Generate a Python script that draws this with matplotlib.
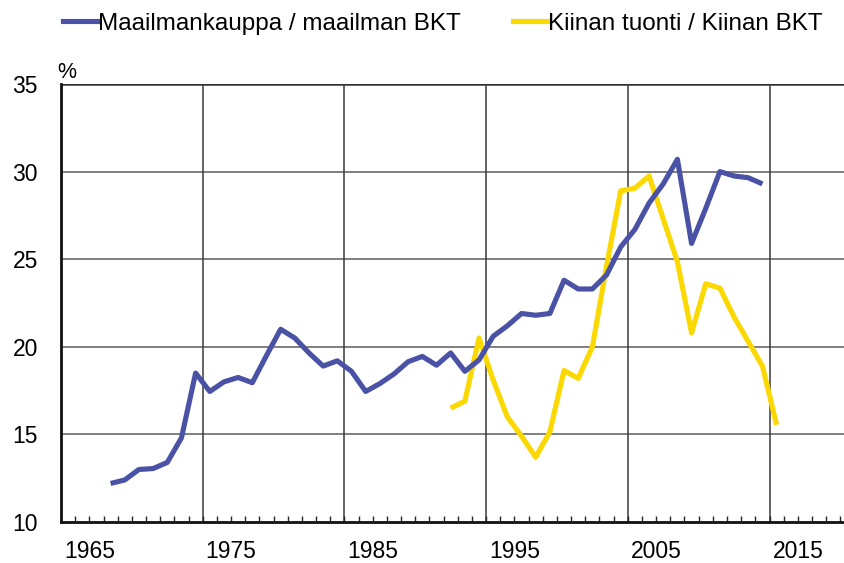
import matplotlib
matplotlib.use("Agg")
import matplotlib.pyplot as plt
from matplotlib.ticker import MultipleLocator, FixedLocator
from matplotlib.lines import Line2D
import numpy as np

plt.rcParams['font.family'] = ['Liberation Sans', 'DejaVu Sans']

# Data
world_years = list(range(1966, 2013))
world_trade = [12.2, 12.4, 13.0, 13.05, 13.4, 14.8, 18.5, 17.45, 18.0, 18.25, 17.95,
               19.5, 21.0, 20.5, 19.65, 18.9, 19.2, 18.6, 17.45, 17.9, 18.45, 19.15,
               19.45, 18.95, 19.65, 18.6, 19.25, 20.6, 21.2, 21.9, 21.8, 21.9, 23.8,
               23.3, 23.3, 24.1, 25.7, 26.7, 28.2, 29.3, 30.7, 25.9, 27.9, 30.0,
               29.75, 29.65, 29.3]
china_years = list(range(1990, 2014))
china_imports = [16.5, 16.9, 20.5, 18.1, 16.0, 14.9, 13.7, 15.15, 18.65, 18.2, 20.0,
                 24.6, 28.9, 29.05, 29.75, 27.3, 24.85, 20.8, 23.6, 23.35, 21.7,
                 20.3, 18.9, 15.55]
gridline_years = [1973, 1983, 1993, 2003, 2013]
xtick_labels = ['1965', '1975', '1985', '1995', '2005', '2015']
yticks = [10, 15, 20, 25, 30, 35]

label_world = 'Maailmankauppa / maailman BKT'
label_china = 'Kiinan tuonti / Kiinan BKT'
blue = '#4a52a6'
yellow = '#fad800'

fig = plt.figure(figsize=(8.44, 5.63), dpi=100)
ax = fig.add_axes([61/844, 1 - 522/563, 1 - 61/844, (522 - 84)/563])

# mid-year positions
ax.plot(np.array(world_years) + 0.5, world_trade, color=blue, lw=3.7,
        solid_joinstyle='round', solid_capstyle='butt', zorder=4)
ax.plot(np.array(china_years) + 0.5, china_imports, color=yellow, lw=3.7,
        solid_joinstyle='round', solid_capstyle='butt', zorder=3)

ax.set_xlim(1963, 1963 + 783/14.17)
ax.set_ylim(10, 35)

for g in yticks[1:-1]:
    ax.axhline(g, color='#7f7f7f', lw=1.4, zorder=1)
ax.axhline(35, color='#333333', lw=1.8, zorder=1)
for g in gridline_years:
    ax.axvline(g, color='#3a3a3a', lw=1.1, zorder=1)

ax.set_yticks(yticks)
ax.set_yticklabels([str(v) for v in yticks])
ax.xaxis.set_major_locator(FixedLocator([int(s) for s in xtick_labels]))
ax.set_xticklabels(xtick_labels)
ax.xaxis.set_minor_locator(MultipleLocator(1))
ax.tick_params(axis='x', which='both', direction='in', length=4, width=1,
               color='#222222', labelsize=16.5, pad=12.8)
ax.tick_params(axis='y', which='both', length=0, labelsize=16.5, pad=16.5)

for s in ['top', 'right']:
    ax.spines[s].set_visible(False)
for s in ['left', 'bottom']:
    ax.spines[s].set_color('#111111')
    ax.spines[s].set_linewidth(2)

fig.text(57/844, 1 - 72/563, '%', fontsize=15.5, ha='left', va='center')

handles = [Line2D([], [], color=blue, lw=3.7), Line2D([], [], color=yellow, lw=3.7)]
fig.legend(handles, [label_world, label_china], loc='center left',
           bbox_to_anchor=(63/844, 1 - 23.5/563), ncol=2, frameon=False,
           fontsize=17.5, handlelength=1.4, handletextpad=0.05,
           columnspacing=2.15, borderpad=0, borderaxespad=0)

fig.savefig('out.png', dpi=100)
